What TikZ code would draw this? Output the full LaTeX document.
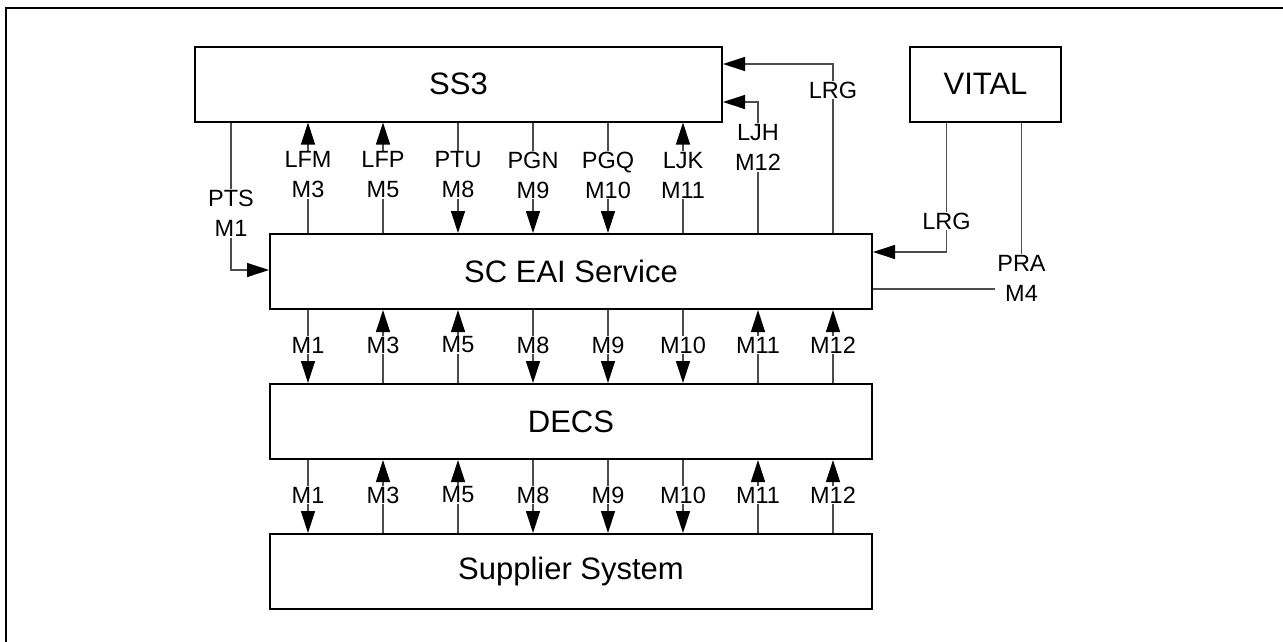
\documentclass[tikz,border=0pt]{standalone}
\usepackage{fontspec}
\setmainfont{Liberation Sans}
\usetikzlibrary{arrows.meta}
\begin{document}
\begin{tikzpicture}[x=1pt,y=-1pt,
  sysbox/.style={draw=black,line width=2pt,minimum height=75pt,inner sep=0pt,
    anchor=north west,font=\fontsize{31}{37}\selectfont},
  conn/.style={draw=black!70,line width=1.2pt},
  tip/.style={conn,-{Triangle[length=22pt,width=14pt,color=black,fill=black]}},
  lab/.style={fill=white,inner xsep=2.5pt,inner ysep=1pt,font=\fontsize{23.5}{30}\selectfont},
  lab2/.style={lab,align=center}]
\useasboundingbox (0,0) rectangle (1283,641);
\clip (0,0) rectangle (1283,641);
% outer frame
\draw[line width=2pt] (6,700) -- (6,8) -- (1320,8);
% boxes
\node[sysbox,minimum width=527pt] (ss3) at (194,45.5) {SS3};
\node[sysbox,minimum width=151pt] (vital) at (909,45.5) {VITAL};
\node[sysbox,minimum width=602pt] (sc) at (269,233) {SC EAI Service};
\node[sysbox,minimum width=602pt] (decs) at (269,383) {DECS};
\node[sysbox,minimum width=602pt] (sup) at (269,533) {Supplier System};
% SS3 <-> SC EAI Service
\draw[tip] (ss3.south -| 231,0) |- (sc.west |- 0,270);
\foreach \x/\a/\b/\d in {308/LFM/M3/u,383/LFP/M5/u,458/PTU/M8/d,533/PGN/M9/d,608/PGQ/M10/d,683/LJK/M11/u}{
  \if u\d
    \draw[tip] (sc.north -| \x,0) -- (ss3.south -| \x,0);
  \else
    \draw[tip] (ss3.south -| \x,0) -- (sc.north -| \x,0);
  \fi
}
\draw[tip] (sc.north -| 758,0) |- (ss3.east |- 0,102);
\draw[tip] (sc.north -| 833,0) |- (ss3.east |- 0,64);
% VITAL
\draw[tip] (vital.south -| 946.5,0) |- (sc.east |- 0,252);
\draw[conn] (vital.south -| 1021.5,0) |- (sc.east |- 0,289);
% SC EAI -> DECS -> Supplier
\foreach \x/\a/\d in {308/M1/d,383/M3/u,458/M5/u,533/M8/d,608/M9/d,683/M10/d,758/M11/u,833/M12/u}{
  \if u\d
    \draw[tip] (decs.north -| \x,0) -- (sc.south -| \x,0);
    \draw[tip] (sup.north -| \x,0) -- (decs.south -| \x,0);
  \else
    \draw[tip] (sc.south -| \x,0) -- (decs.north -| \x,0);
    \draw[tip] (decs.south -| \x,0) -- (sup.north -| \x,0);
  \fi
  \node[lab] (l1\a) at (\x,345) {\a};
  \node[lab] (l2\a) at (\x,495) {\a};
}
% labels (upper)
\node[lab2] (lpts) at (231,213.5) {PTS\\M1};
\foreach \x/\a/\b in {308/LFM/M3,383/LFP/M5,458/PTU/M8,533/PGN/M9,608/PGQ/M10,683/LJK/M11}{
  \node[lab2] (lu\a) at (\x,175) {\a\\\b};
}
\node[lab2] (lljh) at (758,147.5) {LJH\\M12};
\node[lab] (llrg) at (833,90) {LRG};
\node[lab] (llrgv) at (946.5,221) {LRG};
\node[lab2] (lpra) at (1021.5,278) {PRA\\M4};
\end{tikzpicture}
\end{document}
